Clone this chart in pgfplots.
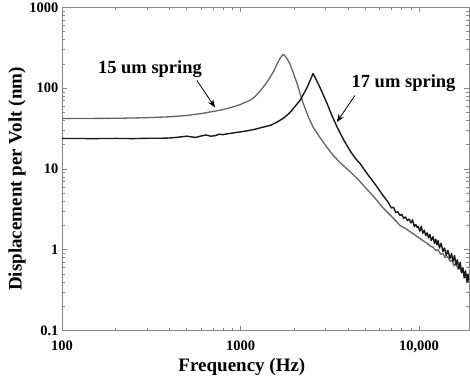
\documentclass[border=0pt]{standalone}
\usepackage{fontspec}
\setmainfont{Liberation Serif}
\usepackage{pgfplots}
\pgfplotsset{compat=1.18}
\usetikzlibrary{arrows.meta}
\definecolor{axgray}{RGB}{135,135,135}
\definecolor{curvegray}{RGB}{100,100,100}
\definecolor{curveblack}{RGB}{25,25,25}
\begin{document}
\begin{tikzpicture}
\useasboundingbox (0,0) rectangle (470pt,385pt);
\begin{loglogaxis}[
 at={(62pt,54.5pt)}, anchor=south west,
 scale only axis, width=407pt, height=323pt,
 xmin=100, xmax=19050, ymin=0.1, ymax=1000,
 axis line style={axgray, line width=0.8pt},
 tick style={axgray, line width=0.6pt},
 major tick length=5pt, minor tick length=3pt,
 xtick={100,1000,10000}, xticklabels={100,1000,{10,000}},
 ytick={0.1,1,10,100,1000}, yticklabels={0.1,1,10,100,1000},
 minor xtick={200,300,400,500,600,700,800,900,2000,3000,4000,5000,6000,7000,8000,9000},
 minor ytick={0.2,0.3,0.4,0.5,0.6,0.7,0.8,0.9,2,3,4,5,6,7,8,9,20,30,40,50,60,70,80,90,200,300,400,500,600,700,800,900},
 tick label style={font=\bfseries\fontsize{14.5}{15}\selectfont, black},
 xticklabel style={yshift=-7pt},
 label style={font=\bfseries\fontsize{19}{20}\selectfont, black},
 xlabel={Frequency (Hz)}, ylabel={Displacement per Volt (nm)},
 xlabel style={at={(axis description cs:0.442,-0.113)}, anchor=center},
 ylabel style={at={(axis description cs:-0.1106,0.469)}, anchor=center},
]
% 15 um spring (gray)
\addplot[curvegray, line width=1.3pt, line join=round] coordinates {
(100,42.2)(200,42.4)(300,43.2)(400,44.3)(500,46.0)(600,48.5)(700,51.5)(800,54.5)(900,58.5)
(1000,63)(1130,71)(1200,78)(1285,92)(1380,112)(1463,136)(1540,165)(1601,200)(1660,232)
(1730,262)(1760,258)(1820,232)(1893,200)(1980,152)(2073,115)(2150,88)(2240,66)(2400,44)
(2549,33)(2788,24.5)(3053,18.5)(3300,14.8)(3609,12.0)(4104,9.3)(4670,7.0)(5112,5.6)
(5700,4.3)(6285,3.3)(7000,2.6)(7400,2.3)(7825,2.0)(8500,1.8)(9000,1.65)(9750,1.46)
(10500,1.3)(11000,1.22)(11500,1.12)(11980,1.07)(12400,0.98)(12800,1.0)(13200,0.88)
(13600,0.9)(14000,0.8)(14500,0.82)(14920,0.72)(15300,0.74)(15700,0.63)(16100,0.68)
(16500,0.58)(16900,0.6)(17300,0.52)(17700,0.55)(18100,0.45)(18580,0.47)(18900,0.4)(19050,0.43)
};
% 17 um spring (black)
\addplot[curveblack, line width=1.4pt, line join=round] coordinates {
(100,23.9)(150,23.8)(200,23.9)(250,23.8)(300,24.0)(350,24.0)(400,24.2)(450,24.8)(500,25.5)
(530,25.0)(560,24.6)(600,25.6)(640,26.4)(680,25.5)(720,25.8)(760,27.0)(800,26.6)(850,27.4)
(900,27.8)(950,28.4)(1000,28.8)(1100,29.8)(1200,31.0)(1300,32.5)(1400,33.8)(1463,34.6)
(1600,38.0)(1750,43.0)(1893,50.0)(2000,58.0)(2100,66)(2153,70.5)(2250,84)(2358,102)
(2450,124)(2549,152)(2600,140)(2700,118)(2788,102)(2900,84)(3053,64.7)(3250,46)(3476,33)
(3800,22.5)(4104,16.9)(4400,13.5)(4670,11.7)(5112,8.8)(5700,6.4)(6285,4.7)(6700,3.9)
(7000,3.3)(7200,3.35)(7400,2.9)(7600,2.95)(7825,2.65)(8000,2.75)(8200,2.45)(8400,2.55)
(8600,2.3)(8800,2.4)(9000,2.15)(9200,2.35)(9400,1.95)(9600,2.05)(9750,1.89)(9900,1.95)
(10100,1.7)(10300,1.95)(10500,1.6)(10700,1.75)(10900,1.5)(11100,1.62)(11300,1.4)(11500,1.55)
(11700,1.3)(11980,1.45)(12200,1.2)(12400,1.35)(12600,1.15)(12800,1.3)(13000,1.05)(13300,1.2)
(13600,0.95)(13900,1.05)(14200,0.85)(14500,0.98)(14920,0.78)(15200,0.9)(15500,0.72)(15800,0.85)
(16100,0.65)(16400,0.75)(16700,0.58)(17000,0.7)(17300,0.52)(17600,0.6)(17900,0.45)(18200,0.55)
(18580,0.4)(18800,0.5)(19050,0.42)
};
\node[font=\bfseries\fontsize{18.5}{20}\selectfont, anchor=base] at (axis cs:311,152) {15 um spring};
\node[font=\bfseries\fontsize{18.5}{20}\selectfont, anchor=base] at (axis cs:8185,103) {17 um spring};
\draw[black, line width=0.8pt, -{Stealth[length=8pt,width=6pt]}] (axis cs:570,125) -- (axis cs:720,57.8);
\draw[black, line width=0.8pt, -{Stealth[length=8pt,width=6pt]}] (axis cs:4375,81.3) -- (axis cs:3459,38.0);
\end{loglogaxis}
\end{tikzpicture}
\end{document}
